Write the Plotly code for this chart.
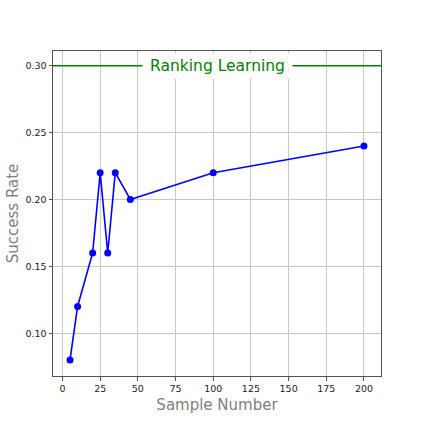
import plotly.graph_objects as go

sample_number = [5, 10, 20, 25, 30, 35, 45, 100, 200]
success_rate = [0.08, 0.12, 0.16, 0.22, 0.16, 0.22, 0.20, 0.22, 0.24]
baseline_value = 0.30
baseline_label = "Ranking Learning"
x_ticks = [0, 25, 50, 75, 100, 125, 150, 175, 200]
y_ticks = [0.10, 0.15, 0.20, 0.25, 0.30]
y_tick_text = ["0.10", "0.15", "0.20", "0.25", "0.30"]

font_family = "DejaVu Sans, Liberation Sans, sans-serif"

fig = go.Figure()
fig.add_trace(go.Scatter(
    x=sample_number, y=success_rate, mode="lines+markers",
    line=dict(color="#0000ff", width=1.6),
    marker=dict(color="#0000ff", size=7),
    showlegend=False,
))
fig.add_shape(type="line", xref="paper", x0=0, x1=1, yref="y",
              y0=baseline_value, y1=baseline_value,
              line=dict(color="#008000", width=1.4), layer="above")
fig.add_annotation(x=0.5, xref="paper", y=baseline_value, yref="y",
                   text=baseline_label, showarrow=False,
                   font=dict(family=font_family, size=15.5, color="#008000"),
                   bgcolor="white", borderpad=3, width=143, height=18)

axis_common = dict(
    showgrid=True, gridcolor="#c8c8c8", gridwidth=1,
    showline=True, linecolor="#555555", linewidth=1, mirror=True,
    ticks="outside", ticklen=3.5, tickcolor="#555555", tickwidth=1,
    tickfont=dict(family=font_family, size=9.5, color="#222222"),
    zeroline=False, automargin=False,
)
fig.update_xaxes(range=[-6.3, 211.3], tickvals=x_ticks,
                 title=dict(text="Sample Number", standoff=6,
                            font=dict(family=font_family, size=15, color="#808080")),
                 **axis_common)
fig.update_yaxes(range=[0.068, 0.311], tickvals=y_ticks, ticktext=y_tick_text,
                 title=dict(text="Success Rate", standoff=3,
                            font=dict(family=font_family, size=15, color="#808080")),
                 **axis_common)
fig.update_layout(
    width=423, height=423,
    margin=dict(l=53, r=42, t=51, b=47),
    plot_bgcolor="white", paper_bgcolor="white",
)
fig.write_html("out.html", post_script="document.body.style.margin='0';",
               config={"displayModeBar": False})
